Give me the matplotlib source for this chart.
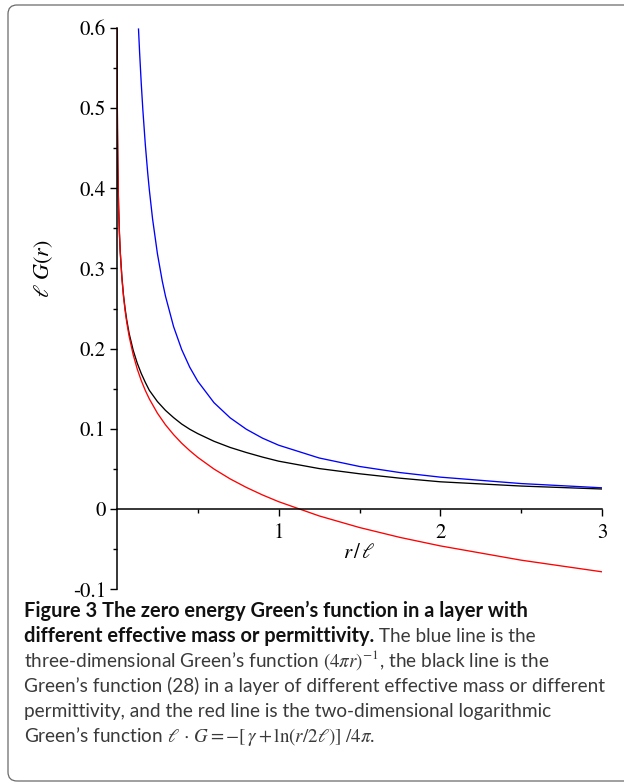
import matplotlib
matplotlib.use("Agg")
import matplotlib.pyplot as plt
from matplotlib import font_manager
from matplotlib.patches import FancyBboxPatch
from matplotlib.transforms import IdentityTransform

# values
r_blue = [0.133, 0.14, 0.15, 0.16, 0.175, 0.19, 0.2, 0.22, 0.25, 0.28, 0.3, 0.35, 0.4, 0.45, 0.5,
          0.6, 0.7, 0.8, 0.9, 1.0, 1.25, 1.5, 1.75, 2.0, 2.5, 3.0]
g_blue = [0.5983, 0.5684, 0.5305, 0.4974, 0.4547, 0.4188, 0.3979, 0.3617, 0.3183, 0.2842, 0.2653,
          0.2274, 0.1989, 0.1768, 0.1592, 0.1326, 0.1137, 0.0995, 0.0884, 0.0796, 0.0637, 0.0531,
          0.0455, 0.0398, 0.0318, 0.0265]

r_black = [0.0006, 0.001, 0.002, 0.003, 0.005, 0.0075, 0.01, 0.015, 0.02, 0.03, 0.04, 0.05, 0.06,
           0.075, 0.1, 0.125, 0.15, 0.175, 0.2, 0.25, 0.3, 0.35, 0.4, 0.45, 0.5, 0.6, 0.7, 0.8,
           0.9, 1.0, 1.25, 1.5, 1.75, 2.0, 2.5, 3.0]
g_black = [0.6, 0.559, 0.504, 0.472, 0.431, 0.399, 0.376, 0.344, 0.321, 0.290, 0.267, 0.250, 0.236,
           0.219, 0.198, 0.182, 0.169, 0.158, 0.148, 0.134, 0.123, 0.114, 0.106, 0.0995, 0.094,
           0.0845, 0.0768, 0.0705, 0.0648, 0.0597, 0.0505, 0.0440, 0.0385, 0.0340, 0.0287, 0.0250]

r_red = [0.0006, 0.001, 0.002, 0.003, 0.005, 0.0075, 0.01, 0.015, 0.02, 0.03, 0.04, 0.05, 0.06,
         0.075, 0.1, 0.125, 0.15, 0.175, 0.2, 0.25, 0.3, 0.35, 0.4, 0.45, 0.5, 0.6, 0.7, 0.8,
         0.9, 1.0, 1.25, 1.5, 1.75, 2.0, 2.5, 3.0]
g_red = [0.5996, 0.5589, 0.5038, 0.4715, 0.4309, 0.3986, 0.3757, 0.3434, 0.3205, 0.2883, 0.2654,
         0.2476, 0.2331, 0.2154, 0.1925, 0.1747, 0.1602, 0.1479, 0.1373, 0.1195, 0.1050, 0.0928,
         0.0821, 0.0728, 0.0644, 0.0499, 0.0376, 0.0270, 0.0176, 0.0092, -0.0085, -0.0230,
         -0.0353, -0.0459, -0.0637, -0.0782]

x_ticks = [1, 2, 3]
x_ticklabels = ["1", "2", "3"]
x_minor = [0.5, 1.5, 2.5]
y_ticks = [-0.1, 0, 0.1, 0.2, 0.3, 0.4, 0.5, 0.6]
y_ticklabels = ["-0.1", "0", "0.1", "0.2", "0.3", "0.4", "0.5", "0.6"]
y_minor = [-0.05, 0.05, 0.15, 0.25, 0.35, 0.45, 0.55]

caption_lines = [
    [("Figure 3 The zero energy Green\u2019s function in a layer with", 'bold')],
    [("different effective mass or permittivity.", 'bold'), (" The blue line is the", 'normal')],
    [("three-dimensional Green\u2019s function $(4\\pi r)^{-1}$, the black line is the", 'normal')],
    [("Green\u2019s function (28) in a layer of different effective mass or different", 'normal')],
    [("permittivity, and the red line is the two-dimensional logarithmic", 'normal')],
    [("Green\u2019s function $\\ell\\,\\cdot\\,G = -[\\,\\gamma + \\ln(r/2\\ell)]\\ /4\\pi$.", 'normal')],
]

plt.rcParams['font.family'] = 'STIXGeneral'
plt.rcParams['mathtext.fontset'] = 'stix'

avail = {f.name for f in font_manager.fontManager.ttflist}
cap_font = ['Lato', 'DejaVu Sans'] if 'Lato' in avail else ['Open Sans', 'DejaVu Sans']

W, H = 624, 783
fig = plt.figure(figsize=(W / 100, H / 100), dpi=100)
ax = fig.add_axes([117 / W, 1 - 589.3 / H, 485 / W, 561.6 / H])
ax.patch.set_visible(False)

ax.plot(r_blue, g_blue, color='#0000ff', lw=0.95)
ax.plot(r_black, g_black, color='black', lw=0.95)
ax.plot(r_red, g_red, color='#ff0000', lw=0.95)

ax.set_xlim(0, 3)
ax.set_ylim(-0.1, 0.6)
ax.spines['left'].set_position(('data', 0))
ax.spines['bottom'].set_position(('data', 0))
ax.spines['top'].set_visible(False)
ax.spines['right'].set_visible(False)
for s in ['left', 'bottom']:
    ax.spines[s].set_linewidth(1.1)

ax.set_xticks(x_ticks)
ax.set_xticklabels(x_ticklabels)
ax.set_xticks(x_minor, minor=True)
ax.set_yticks(y_ticks)
ax.set_yticklabels(y_ticklabels)
ax.set_yticks(y_minor, minor=True)
ax.tick_params(which='major', length=5, width=1.0, labelsize=15, pad=3)
ax.tick_params(axis='x', which='major', pad=5)
ax.tick_params(which='minor', length=3, width=1.0)

ax.set_xlabel(r'$r\,/\,\ell$', fontsize=15)
ax.xaxis.set_label_coords(0.5, 0.082)
ax.set_ylabel(r'$\ell\ G(r)$', fontsize=16)
ax.yaxis.set_label_coords(-0.128, 0.57)

# caption frame
frame = FancyBboxPatch((8, H - 781), 640, 776, boxstyle='round,pad=0,rounding_size=9',
                       transform=IdentityTransform(), fill=False, ec='#6a6a6a', lw=0.9)
fig.add_artist(frame)

bold_col = '#111111'
reg_col = '#3a3a3a'
x0 = 24
baselines = [617, 642, 667, 692, 717, 742]

# fit font sizes so lines span like the reference
fig.canvas.draw()
renderer = fig.canvas.get_renderer()


def width_at10(txt, wt):
    t = fig.text(0, 0, txt, family=cap_font, fontsize=10, fontweight=wt,
                 transform=IdentityTransform())
    w = t.get_window_extent(renderer).width
    t.remove()
    return w


reg_size = 10 * 582 / width_at10(caption_lines[3][0][0], 'normal')
bold_size = min(10 * 521 / width_at10(caption_lines[0][0][0], 'bold'), reg_size * 1.05)

for yb, parts in zip(baselines, caption_lines):
    x = x0
    for txt, wt in parts:
        t = fig.text(x, H - yb, txt, family=cap_font,
                     fontsize=bold_size if wt == 'bold' else reg_size,
                     fontweight=wt, color=bold_col if wt == 'bold' else reg_col,
                     va='baseline', ha='left', transform=IdentityTransform())
        x += t.get_window_extent(renderer).width

fig.savefig('out.png', dpi=100)
